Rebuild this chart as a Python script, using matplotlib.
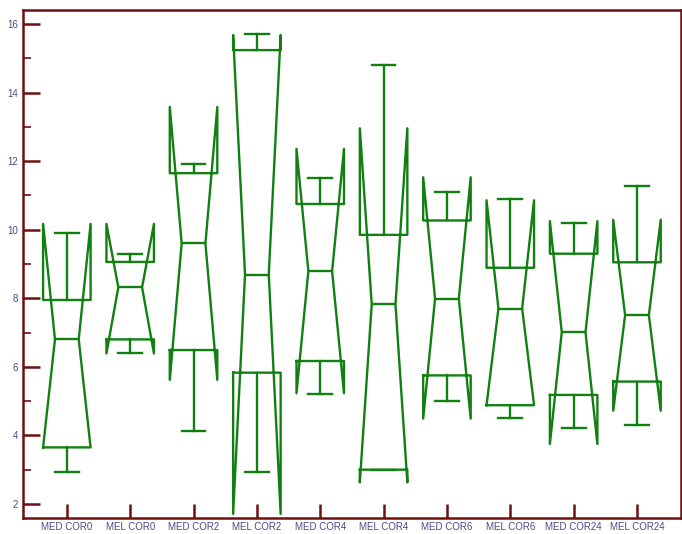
import matplotlib
matplotlib.use("Agg")
import matplotlib.pyplot as plt
from matplotlib.ticker import MultipleLocator

categories = ["MED COR0", "MEL COR0", "MED COR2", "MEL COR2", "MED COR4",
              "MEL COR4", "MED COR6", "MEL COR6", "MED COR24", "MEL COR24"]
whislo = [2.92, 6.41, 4.12, 2.92, 5.20, 3.00, 5.01, 4.51, 4.21, 4.31]
q1     = [3.65, 6.80, 6.49, 5.83, 6.17, 3.00, 5.75, 4.88, 5.18, 5.57]
med    = [6.80, 8.32, 9.60, 8.69, 8.79, 7.82, 7.99, 7.70, 7.01, 7.51]
q3     = [7.95, 9.06, 11.65, 15.24, 10.75, 9.85, 10.27, 8.89, 9.30, 9.05]
whishi = [9.91, 9.30, 11.92, 15.70, 11.51, 14.81, 11.10, 10.90, 10.20, 11.29]
cilo   = [3.65, 6.39, 5.62, 1.71, 5.23, 2.63, 4.49, 4.88, 3.75, 4.72]
cihi   = [10.17, 10.17, 13.58, 15.68, 12.36, 12.96, 11.53, 10.86, 10.25, 10.29]

GREEN = "#118011"
FRAME = "#6e1010"
LABEL = "#4a4a86"

stats = []
for i, c in enumerate(categories):
    stats.append(dict(label=c, whislo=whislo[i], q1=q1[i], med=med[i], q3=q3[i],
                      whishi=whishi[i], cilo=cilo[i], cihi=cihi[i], fliers=[]))

fig = plt.figure(figsize=(6.82, 5.34), dpi=100)
ax = fig.add_axes([22.5/682, 16/534, (680.7-22.5)/682, (518-10)/534])

lp = dict(color=GREEN, linewidth=1.7)
ax.bxp(stats, positions=range(1, len(categories)+1), widths=0.75,
       shownotches=True, showfliers=False,
       boxprops=lp, whiskerprops=lp, capprops=lp, medianprops=lp)

ax.set_xlim(0.30, 10.69)
ax.set_ylim(1.59, 16.41)

ax.yaxis.set_major_locator(MultipleLocator(2))
ax.yaxis.set_minor_locator(MultipleLocator(1))
ax.set_xticks(range(1, len(categories)+1))
ax.set_xticklabels(categories)

for s in ax.spines.values():
    s.set_color(FRAME)
    s.set_linewidth(1.8)

ax.tick_params(axis='y', which='major', direction='in', length=12, width=1.8,
               color=FRAME, labelcolor=LABEL, labelsize=7, pad=3)
ax.tick_params(axis='y', which='minor', direction='in', length=6, width=1.2,
               color=FRAME)
ax.tick_params(axis='x', which='major', direction='in', length=10, width=1.8,
               color=FRAME, labelcolor=LABEL, labelsize=7, pad=3)
for lbl in ax.get_xticklabels() + ax.get_yticklabels():
    lbl.set_family("Liberation Sans")

fig.savefig("out.png", dpi=100)
